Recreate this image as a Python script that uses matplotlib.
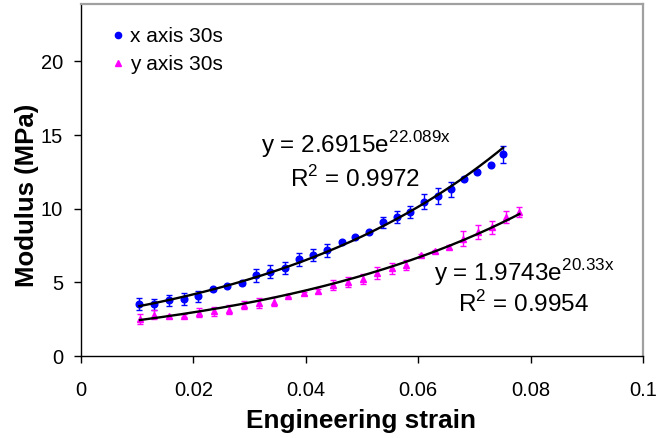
import numpy as np
import matplotlib
matplotlib.use("Agg")
import matplotlib.pyplot as plt
from matplotlib.lines import Line2D

plt.rcParams['font.family'] = ['Liberation Sans', 'DejaVu Sans']
plt.rcParams['mathtext.fontset'] = 'custom'
plt.rcParams['mathtext.rm'] = 'Liberation Sans'

# Data
x_strain = [0.0104, 0.0130, 0.0157, 0.0183, 0.0208, 0.0234, 0.0259, 0.0286, 0.0311,
            0.0337, 0.0363, 0.0388, 0.0413, 0.0438, 0.0464, 0.0488, 0.0513, 0.0537,
            0.0562, 0.0586, 0.0610, 0.0635, 0.0659, 0.0681, 0.0705, 0.0729, 0.0751]
x_modulus = [3.53, 3.50, 3.78, 3.87, 4.07, 4.52, 4.75, 4.93, 5.47, 5.72, 5.99, 6.56,
             6.87, 7.17, 7.73, 8.05, 8.41, 9.07, 9.45, 9.77, 10.47, 10.88, 11.31,
             12.05, 12.48, 12.96, 13.70]
x_err = [0.44, 0.35, 0.36, 0.42, 0.37, 0.08, 0.08, 0.08, 0.44, 0.44, 0.42, 0.42,
         0.42, 0.43, 0.08, 0.08, 0.08, 0.40, 0.40, 0.42, 0.52, 0.53, 0.53, 0.08,
         0.08, 0.08, 0.58]

y_strain = [0.0105, 0.0130, 0.0157, 0.0184, 0.0210, 0.0237, 0.0264, 0.0290, 0.0317,
            0.0343, 0.0369, 0.0396, 0.0422, 0.0448, 0.0475, 0.0501, 0.0527, 0.0553,
            0.0579, 0.0605, 0.0630, 0.0655, 0.0679, 0.0706, 0.0731, 0.0756, 0.0780]
y_modulus = [2.51, 2.80, 2.71, 2.74, 2.94, 3.03, 3.14, 3.44, 3.60, 3.69, 4.09, 4.26,
             4.43, 4.83, 5.00, 5.22, 5.63, 5.96, 6.20, 6.83, 7.12, 7.42, 7.96, 8.41,
             8.73, 9.41, 9.79]
y_err = [0.35, 0.30, 0.10, 0.10, 0.32, 0.30, 0.32, 0.28, 0.33, 0.30, 0.10, 0.10,
         0.15, 0.35, 0.33, 0.34, 0.38, 0.36, 0.33, 0.10, 0.10, 0.15, 0.51, 0.49,
         0.45, 0.41, 0.36]

series_labels = ['x axis 30s', 'y axis 30s']
fit_x = (2.6915, 22.089)
fit_y = (1.9743, 20.33)
fit_x_r2 = 0.9972
fit_y_r2 = 0.9954

x_ticks = [0, 0.02, 0.04, 0.06, 0.08, 0.1]
x_ticklabels = ['0', '0.02', '0.04', '0.06', '0.08', '0.1']
y_ticks = [0, 5, 10, 15, 20]

BLUE = '#0000FF'
MAGENTA = '#FF00FF'

fig = plt.figure(figsize=(6.71, 4.38), dpi=100)
ax = fig.add_axes([81/671, 82/438, 562/671, 352/438])

ax.errorbar(x_strain, x_modulus, yerr=x_err, fmt='o', color=BLUE, ms=4.8,
            ecolor=BLUE, elinewidth=1, capsize=2.2, capthick=1, zorder=3)
ax.errorbar(y_strain, y_modulus, yerr=y_err, fmt='^', color=MAGENTA, ms=4.8,
            ecolor=MAGENTA, elinewidth=1, capsize=2.2, capthick=1, zorder=3)

xs = np.linspace(min(x_strain), max(x_strain), 200)
ax.plot(xs, fit_x[0] * np.exp(fit_x[1] * xs), color='black', lw=1.7, zorder=4)
ys = np.linspace(min(y_strain), max(y_strain), 200)
ax.plot(ys, fit_y[0] * np.exp(fit_y[1] * ys), color='black', lw=1.7, zorder=4)

fs_ann = 17.5
ax.text(0.0321, 13.77, r'y = %.4fe$^{\mathrm{%.3fx}}$' % fit_x, fontsize=fs_ann,
        ha='left', va='baseline')
ax.text(0.0372, 11.49, r'R$^{\mathrm{2}}$ = %.4f' % fit_x_r2, fontsize=fs_ann,
        ha='left', va='baseline')
ax.text(0.0628, 5.10, r'y = %.4fe$^{\mathrm{%.2fx}}$' % fit_y, fontsize=fs_ann,
        ha='left', va='baseline')
ax.text(0.0670, 3.00, r'R$^{\mathrm{2}}$ = %.4f' % fit_y_r2, fontsize=fs_ann,
        ha='left', va='baseline')

ax.set_xlim(0, 0.1)
ax.set_ylim(0, 23.9)
ax.set_xticks(x_ticks)
ax.set_xticklabels(x_ticklabels)
ax.set_yticks(y_ticks)
ax.tick_params(direction='out', length=5, width=1, labelsize=14.5, pad=8)
ax.tick_params(axis='x', pad=13)

for s in ['left', 'bottom']:
    ax.spines[s].set_color('black')
    ax.spines[s].set_linewidth(1)
for s in ['top', 'right']:
    ax.spines[s].set_color('#A0A0A0')
    ax.spines[s].set_linewidth(1.6)

ax.set_xlabel('Engineering strain', fontsize=18.8, fontweight='bold')
ax.xaxis.set_label_coords(0.498, -0.150)
ax.set_ylabel('Modulus (MPa)', fontsize=18.5, fontweight='bold')
ax.yaxis.set_label_coords(-0.075, 0.457)

handles = [Line2D([], [], ls='none', marker='o', color=BLUE, ms=4.5),
           Line2D([], [], ls='none', marker='^', color=MAGENTA, ms=4.5)]
ax.legend(handles, series_labels, loc='upper left', bbox_to_anchor=(0.03, 0.975),
          frameon=False, fontsize=15, handlelength=0.5, handletextpad=0.35,
          labelspacing=0.42, borderaxespad=0.3)

fig.savefig('out.png', dpi=100)
